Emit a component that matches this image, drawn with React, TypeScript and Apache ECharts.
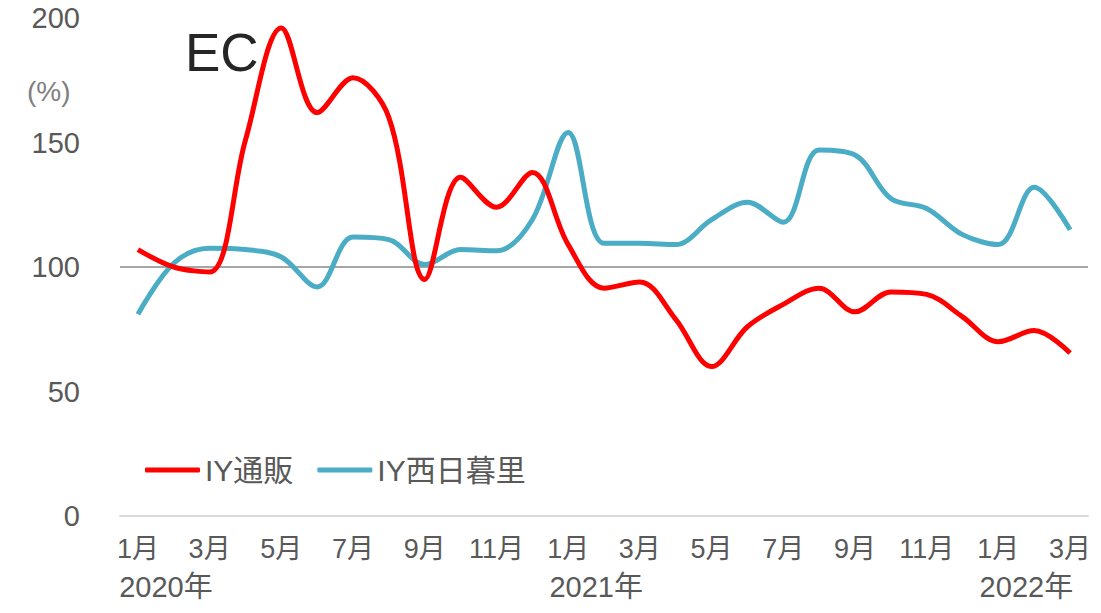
import React, { useEffect, useRef } from "react";
import * as echarts from "echarts";

const months = [
  "1月", "2月", "3月", "4月", "5月", "6月", "7月", "8月", "9月", "10月", "11月", "12月",
  "1月", "2月", "3月", "4月", "5月", "6月", "7月", "8月", "9月", "10月", "11月", "12月",
  "1月", "2月", "3月",
];
const yearLabels = [
  "2020年", "", "", "", "", "", "", "", "", "", "", "",
  "2021年", "", "", "", "", "", "", "", "", "", "", "",
  "2022年", "", "",
];
const tsuhan = [107, 100, 98, 151, 196, 162, 176, 160, 95, 136, 124, 138, 109, 91.5, 94, 79, 60, 76, 85, 91.5, 82, 90, 89, 80, 70, 74.5, 65.5];
const nishinippori = [81, 101.5, 107.5, 107, 104, 92, 112, 111, 101, 107, 106.5, 119, 154, 109.5, 109.5, 109, 119, 126, 118, 147, 145, 127.5, 123.5, 113, 109, 132, 115];
const seriesNames = ["IY通販", "IY西日暮里"];
const FONT = "'Liberation Sans', Arial, 'Noto Sans CJK JP', sans-serif";

export default function App() {
  const ref = useRef<HTMLDivElement>(null);
  useEffect(() => {
    if (!ref.current) return;
    const chart = echarts.init(ref.current, undefined, { renderer: "svg" });
    chart.setOption({
      animation: false,
      textStyle: { fontFamily: FONT },
      title: {
        text: "EC",
        left: 180,
        top: 21,
        textStyle: { fontSize: 53, fontWeight: "normal", color: "#262626", fontFamily: FONT },
      },
      graphic: [
        {
          type: "text",
          left: 27,
          top: 77,
          style: { text: "(%)", fontSize: 28, fill: "#7f7f7f", fontFamily: FONT },
        },
      ],
      legend: {
        left: 140,
        top: 450,
        itemWidth: 55,
        itemHeight: 5,
        itemGap: 24,
        icon: "roundRect",
        textStyle: { fontSize: 30, color: "#595959", fontFamily: FONT },
        data: seriesNames,
      },
      grid: { left: 120, right: 13, top: 18, bottom: 97, containLabel: false },
      xAxis: [
        {
          type: "category",
          data: months,
          boundaryGap: true,
          axisLine: { show: true, lineStyle: { color: "#d9d9d9", width: 2 } },
          axisTick: { show: false },
          axisLabel: { interval: 1, fontSize: 27, color: "#595959", margin: 19, fontFamily: FONT },
        },
        {
          type: "category",
          data: yearLabels,
          position: "bottom",
          boundaryGap: true,
          axisLine: { show: false },
          axisTick: { show: false },
          axisLabel: {
            interval: 0,
            fontSize: 29,
            color: "#595959",
            margin: 56,
            padding: [0, 0, 0, 56],
            fontFamily: FONT,
          },
        },
      ],
      yAxis: {
        type: "value",
        min: 0,
        max: 200,
        interval: 50,
        splitLine: { show: false },
        axisLine: { show: false },
        axisTick: { show: false },
        axisLabel: { fontSize: 29, color: "#595959", margin: 40, fontFamily: FONT },
      },
      series: [
        {
          name: seriesNames[0],
          type: "line",
          data: tsuhan,
          smooth: 0.35,
          symbol: "none",
          lineStyle: { color: "#ff0000", width: 5 },
          itemStyle: { color: "#ff0000" },
          z: 3,
          markLine: {
            silent: true,
            symbol: "none",
            label: { show: false },
            lineStyle: { color: "#a6a6a6", width: 2, type: "solid" },
            data: [{ yAxis: 100 }],
            z: 1,
          },
        },
        {
          name: seriesNames[1],
          type: "line",
          data: nishinippori,
          smooth: 0.35,
          symbol: "none",
          lineStyle: { color: "#4bacc6", width: 5 },
          itemStyle: { color: "#4bacc6" },
          z: 2,
        },
      ],
    });
    return () => chart.dispose();
  }, []);
  return <div ref={ref} style={{ width: 1101, height: 613, position: "absolute", left: 0, top: 0 }} />;
}
